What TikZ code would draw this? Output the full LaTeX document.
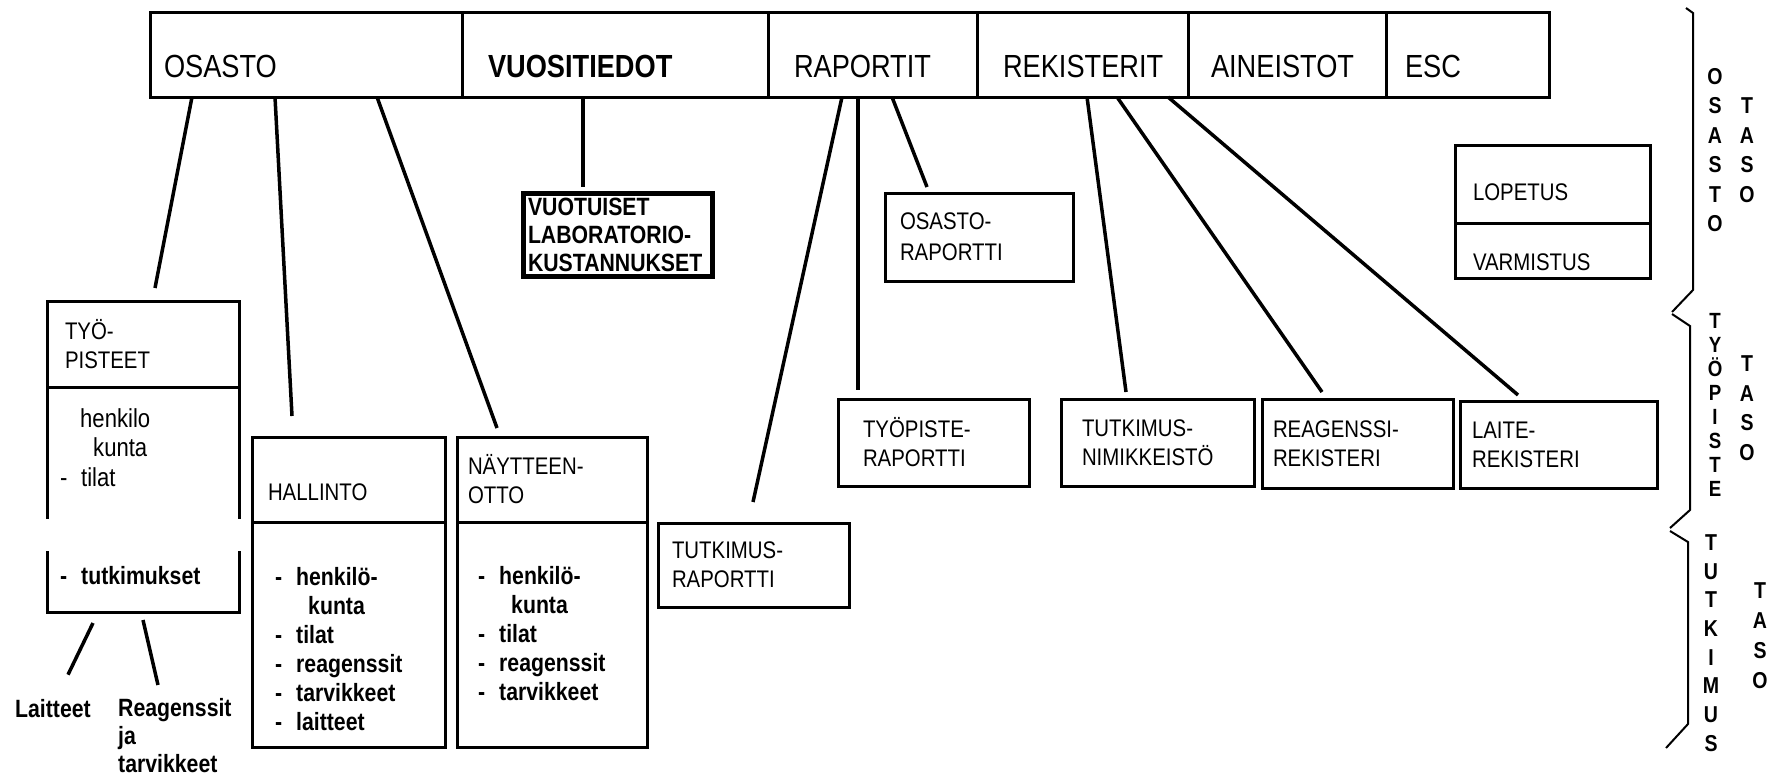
\documentclass[tikz,border=0pt]{standalone}
\usepackage{fontspec}
\setmainfont{Liberation Sans}[FakeStretch=0.85]
\usetikzlibrary{positioning}
\newcommand{\barfont}{\fontsize{32}{36}\selectfont}
\newcommand{\headfont}{\fontsize{24}{29}\selectfont}
\newcommand{\listfont}{\fontsize{25}{29}\selectfont\bfseries}
\newcommand{\sidefont}{\fontsize{23}{29.5}\selectfont\bfseries}
\newcommand{\dsh}{\makebox[21pt][l]{-}}
\tikzset{
  cell/.style={draw,line width=3pt,outer sep=0pt,minimum height=85pt,inner ysep=0pt,text height=46pt,text depth=0pt,align=left,font=\barfont},
  box/.style={draw,line width=3pt,outer sep=0pt,anchor=north west,align=left,font=\headfont,inner ysep=0pt},
  boxpart/.style={draw,line width=3pt,outer sep=0pt,inner sep=0pt},
  list/.style={anchor=north west,align=left,inner sep=0pt,font=\listfont},
  link/.style={line width=3.5pt},
  brace/.style={line width=2pt},
  side/.style={align=center,inner sep=0pt,font=\sidefont}
}
\begin{document}
\begin{tikzpicture}[x=1pt,y=1pt]
  \path[use as bounding box,fill=white] (0,0) rectangle (1771,-780);
  \node[cell,anchor=north west,inner xsep=14pt,text width=284pt] (osasto) at (150,-12) {OSASTO};
  \node[cell,right=0pt of osasto,inner xsep=26pt,text width=254pt,font=\barfont\bfseries] (vuosi) {VUOSITIEDOT};
  \node[cell,right=0pt of vuosi,inner xsep=26pt,text width=157pt] (raportit) {RAPORTIT};
  \node[cell,right=0pt of raportit,inner xsep=26pt,text width=159pt] (rekisterit) {REKISTERIT};
  \node[cell,right=0pt of rekisterit,inner xsep=23pt,text width=152pt] (aineistot) {AINEISTOT};
  \node[cell,right=0pt of aineistot,inner xsep=19pt,text width=125pt] (esc) {ESC};

  \node[box,minimum height=86pt,inner xsep=18pt,text width=156pt] (typhead) at (47,-301) {TYÖ-\\PISTEET};
  \node[boxpart,below=0pt of typhead,minimum width=192pt,minimum height=225pt] (typbody) {};
  \fill[white] ([shift={(-4,-132)}]typbody.north west) rectangle ([shift={(4,-164)}]typbody.north west);
  \fill[white] ([shift={(-4,-132)}]typbody.north east) rectangle ([shift={(4,-164)}]typbody.north east);
  \node[list,font=\fontsize{26}{29.5}\selectfont] (typitems) at (60,-408) {\hspace*{20pt}henkilo\\\hspace*{33pt}kunta\\\dsh tilat};
  \node[list,anchor=base west] (typtut) at (60,-584) {\dsh tutkimukset};
  \node[list,anchor=base west] (lai) at (15,-717) {Laitteet};
  \node[list,font=\fontsize{25}{28}\selectfont\bfseries] (rea) at (118,-698) {Reagenssit\\ja\\tarvikkeet};

  \node[box,minimum height=85pt,inner xsep=16pt,text width=161pt,text height=41pt,text depth=0pt] (halhead) at (252,-437) {HALLINTO};
  \node[boxpart,below=0pt of halhead,minimum width=193pt,minimum height=225pt] (halbody) {};
  \node[list] (halitems) at (275,-567) {\dsh henkilö-\\\hspace*{33pt}kunta\\\dsh tilat\\\dsh reagenssit\\\dsh tarvikkeet\\\dsh laitteet};

  \node[box,minimum height=85pt,inner xsep=11pt,text width=168pt] (nayhead) at (457,-437) {NÄYTTEEN-\\OTTO};
  \node[boxpart,below=0pt of nayhead,minimum width=190pt,minimum height=225pt] (naybody) {};
  \node[list] (nayitems) at (478,-566) {\dsh henkilö-\\\hspace*{33pt}kunta\\\dsh tilat\\\dsh reagenssit\\\dsh tarvikkeet};

  \node[box,line width=5pt,minimum height=83pt,inner xsep=5pt,text width=179pt,font=\fontsize{25}{28}\selectfont\bfseries] (vuo) at (523,-193) {VUOTUISET\\LABORATORIO-\\KUSTANNUKSET};
  \node[box,minimum height=88pt,inner xsep=15pt,text width=158pt,font=\fontsize{24}{31}\selectfont] (osr) at (885,-193) {OSASTO-\\RAPORTTI};
  \node[box,minimum height=87pt,inner xsep=25pt,text width=141pt] (tpr) at (838,-399) {TYÖPISTE-\\RAPORTTI};
  \node[box,minimum height=87pt,inner xsep=21pt,text width=151pt] (tni) at (1061,-399) {TUTKIMUS-\\NIMIKKEISTÖ};
  \node[box,minimum height=89pt,inner xsep=11pt,text width=169pt] (rre) at (1262,-399) {REAGENSSI-\\REKISTERI};
  \node[box,minimum height=87pt,inner xsep=12pt,text width=173pt] (lre) at (1460,-401) {LAITE-\\REKISTERI};
  \node[box,minimum height=84pt,inner xsep=14pt,text width=163pt] (tra) at (658,-523) {TUTKIMUS-\\RAPORTTI};
  \node[box,minimum height=78pt,inner xsep=18pt,text width=159pt,text height=32pt,text depth=0pt] (lop) at (1455,-145) {LOPETUS};
  \node[box,below=0pt of lop,minimum height=55pt,inner xsep=18pt,text width=159pt,text height=39pt,text depth=0pt] (var) {VARMISTUS};

  \draw[link] ([xshift=42pt]osasto.south west) -- ([shift={(108,13)}]typhead.north west);
  \draw[link] ([xshift=125pt]osasto.south west) -- ([shift={(40,21)}]halhead.north west);
  \draw[link] ([xshift=227pt]osasto.south west) -- ([shift={(40,9)}]nayhead.north west);
  \draw[link] ([xshift=121pt]vuosi.south west) -- ([shift={(60,6)}]vuo.north west);
  \draw[link] ([xshift=74pt]raportit.south west) -- ([shift={(95,21)}]tra.north west);
  \draw[link] ([xshift=90pt]raportit.south west) -- ([shift={(20,9)}]tpr.north west);
  \draw[link] ([xshift=124pt]raportit.south west) -- ([shift={(42,6)}]osr.north west);
  \draw[link] ([xshift=110pt]rekisterit.south west) -- ([shift={(65,7)}]tni.north west);
  \draw[link] ([xshift=140pt]rekisterit.south west) -- ([shift={(60,7)}]rre.north west);
  \draw[link] ([xshift=191pt]rekisterit.south west) -- ([shift={(58,6)}]lre.north west);
  \draw[link] ([shift={(46,-11)}]typbody.south west) -- ([shift={(53,24)}]lai.north west);
  \draw[link] ([shift={(96,-8)}]typbody.south west) -- ([shift={(40,13)}]rea.north west);

  \draw[brace] (1686,-8) -- (1693,-13) -- (1693,-290) -- (1672,-312);
  \draw[brace] (1672,-314) -- (1690,-326) -- (1690,-510) -- (1670,-528);
  \draw[brace] (1670,-531) -- (1688,-542) -- (1688,-724) -- (1666,-748);
  \node[side] (osastolbl) at (1715,-150) {O\\S\\A\\S\\T\\O};
  \node[side] (taso1) at (1747,-150) {T\\A\\S\\O};
  \node[side,font=\fontsize{22}{24}\selectfont\bfseries] (tyopistelbl) at (1715,-405) {T\\Y\\Ö\\P\\I\\S\\T\\E};
  \node[side] (taso2) at (1747,-408) {T\\A\\S\\O};
  \node[side,font=\fontsize{23}{28.7}\selectfont\bfseries] (tutkimuslbl) at (1711,-643) {T\\U\\T\\K\\I\\M\\U\\S};
  \node[side,font=\fontsize{23}{30}\selectfont\bfseries] (taso3) at (1760,-636) {T\\A\\S\\O};
\end{tikzpicture}
\end{document}
